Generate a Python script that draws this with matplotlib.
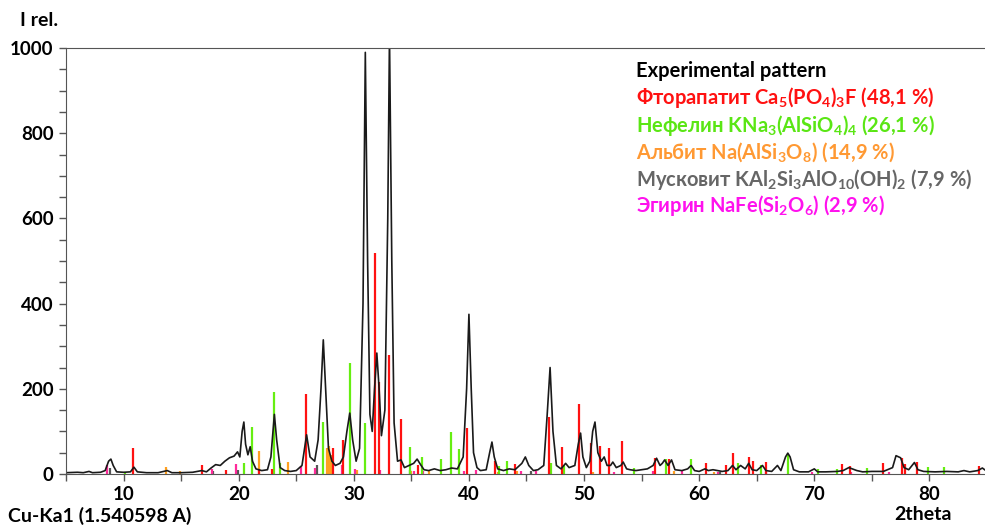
import matplotlib
matplotlib.use("Agg")
import matplotlib.pyplot as plt

plt.rcParams["font.family"] = "Lato"
plt.rcParams["mathtext.fontset"] = "custom"
plt.rcParams["mathtext.rm"] = "Lato:bold"
plt.rcParams["mathtext.it"] = "Lato:bold"
plt.rcParams["mathtext.bf"] = "Lato:bold"

# experimental pattern, 2theta / relative intensity
exp_x = [5.0, 6.0, 6.5, 7.0, 7.3, 8.0, 8.4, 8.7, 8.9, 9.1, 9.4, 10.0, 10.6, 10.9, 11.2,
         12.0, 13.0, 13.8, 14.2, 15.0, 16.0, 16.8, 17.2, 17.6, 18.0, 18.4, 18.8, 19.2,
         19.6, 19.9, 20.1, 20.3, 20.45, 20.6, 20.8, 21.0, 21.2, 21.5, 22.0, 22.5, 22.8,
         23.1, 23.3, 23.6, 24.0, 24.5, 25.0, 25.5, 25.9, 26.2, 26.6, 26.9, 27.15, 27.35,
         27.55, 27.8, 28.1, 28.4, 28.8, 29.1, 29.4, 29.65, 29.9, 30.2, 30.5, 30.8, 31.0,
         31.2, 31.4, 31.6, 31.8, 32.0, 32.2, 32.4, 32.7, 32.95, 33.1, 33.3, 33.5, 33.8,
         34.1, 34.4, 34.8, 35.2, 35.5, 35.8, 36.1, 36.5, 37.0, 37.5, 38.0, 38.5, 39.0,
         39.5, 39.8, 40.0, 40.2, 40.4, 40.7, 41.0, 41.5, 41.8, 42.0, 42.2, 42.5, 43.0,
         43.5, 44.0, 44.6, 44.9, 45.2, 45.6, 46.0, 46.5, 46.8, 47.05, 47.3, 47.6, 48.0,
         48.4, 48.7, 49.2, 49.5, 49.7, 49.9, 50.2, 50.5, 50.75, 50.95, 51.2, 51.5, 51.75,
         52.0, 52.3, 52.5, 52.8, 53.2, 53.4, 53.7, 54.0, 54.5, 55.0, 55.5, 56.0, 56.3,
         56.6, 56.8, 57.0, 57.3, 57.6, 57.9, 58.5, 59.0, 59.3, 59.6, 60.0, 60.5, 60.8,
         61.2, 61.6, 62.0, 62.5, 62.9, 63.2, 63.6, 64.0, 64.3, 64.6, 65.0, 65.5, 65.8,
         66.3, 66.8, 67.1, 67.5, 67.7, 67.9, 68.2, 68.7, 69.5, 70.0, 70.3, 71.0, 72.0,
         72.5, 73.0, 73.3, 73.7, 74.2, 75.0, 76.0, 76.8, 77.1, 77.5, 77.8, 78.2, 78.7,
         79.0, 79.5, 80.5, 81.5, 82.5, 83.0, 83.5, 84.2, 84.6, 85.0]
exp_y = [3, 4, 3, 6, 3, 4, 8, 30, 35, 20, 5, 4, 5, 16, 5,
         3, 3, 8, 3, 3, 4, 8, 5, 14, 22, 20, 30, 38,
         42, 52, 40, 100, 122, 70, 45, 64, 30, 12, 8, 10, 40,
         140, 80, 15, 8, 6, 8, 20, 92, 40, 30, 80, 200, 315,
         200, 60, 30, 20, 25, 40, 100, 143, 80, 30, 60, 400, 990,
         500, 140, 100, 200, 284, 200, 90, 150, 600, 1030, 500, 120, 30,
         33, 15, 20, 25, 35, 22, 10, 8, 12, 8, 10, 14, 12,
         40, 200, 375, 200, 50, 15, 8, 10, 50, 75, 40, 12, 8,
         12, 10, 25, 40, 20, 8, 10, 20, 140, 250, 100, 20, 12,
         25, 15, 20, 70, 96, 40, 15, 30, 100, 122, 50, 30, 40,
         20, 20, 28, 15, 20, 28, 12, 10, 8, 10, 12, 20, 37,
         20, 25, 33, 20, 33, 10, 8, 12, 20, 8, 6, 12, 8,
         10, 8, 6, 8, 20, 10, 20, 12, 25, 10, 8, 20, 8,
         6, 20, 8, 40, 49, 40, 10, 5, 5, 12, 5, 5, 6,
         8, 15, 12, 8, 5, 6, 6, 15, 43, 38, 15, 10, 27,
         10, 6, 5, 6, 5, 8, 5, 8, 14, 6]

# reference phases (stick patterns)
fap_pos = [10.8, 16.8, 18.9, 21.8, 22.9, 25.85, 28.15, 29.05, 31.85, 32.2, 33.05, 34.1,
           35.6, 39.8, 42.3, 44.0, 46.95, 48.1, 49.55, 50.6, 51.4, 52.2, 53.3, 56.2,
           57.4, 60.6, 62.3, 62.9, 64.3, 64.7, 65.8, 72.4, 73.1, 76.0, 77.6, 77.9, 78.9, 84.3]
fap_int = [60, 20, 10, 10, 12, 188, 61, 80, 520, 216, 280, 130,
           20, 108, 30, 24, 134, 64, 164, 73, 66, 61, 77, 38,
           35, 26, 22, 50, 39, 31, 29, 23, 19, 26, 37, 23, 28, 18]

nep_pos = [10.1, 20.5, 21.2, 23.05, 23.6, 27.3, 29.7, 31.0, 34.9, 35.9, 37.6, 38.4, 39.1,
           42.6, 43.3, 47.1, 48.3, 54.3, 57.1, 59.3, 63.4, 65.4, 67.7, 70.3, 72.0, 74.6,
           79.9, 81.3]
nep_int = [5, 26, 110, 193, 26, 122, 260, 120, 64, 40, 35, 99, 59,
           18, 31, 25, 20, 15, 35, 35, 26, 22, 46, 11, 11, 15,
           17, 17]

alb_pos = [13.65, 14.9, 21.75, 24.3, 27.7, 27.85, 28.0, 30.3, 35.0, 36.5, 42.5, 44.2,
           50.8, 57.8, 61.3]
alb_int = [16, 6, 55, 28, 60, 66, 45, 10, 8, 6, 5, 6, 5, 6, 5]

mus_pos = [8.8, 17.8, 19.9, 26.8, 34.9, 45.4, 61.8]
mus_int = [15, 8, 10, 20, 10, 8, 5]

aeg_pos = [8.6, 17.7, 19.8, 25.4, 26.6, 29.0, 30.1, 32.3, 35.2, 36.0, 39.6, 40.6, 44.5,
           45.8, 52.6, 56.0, 58.5, 61.6, 65.8, 69.8, 73.2, 76.5]
aeg_int = [20, 12, 24, 18, 15, 20, 12, 10, 8, 8, 6, 10, 6,
           6, 5, 6, 6, 5, 5, 5, 5, 5]

fig = plt.figure(figsize=(9.85, 5.29), dpi=100)
ax = fig.add_axes([0.067, 0.104, 0.935, 0.805])

ax.vlines(mus_pos, 0, mus_int, color="#555555", lw=1.6)
ax.vlines(alb_pos, 0, alb_int, color="#ffa020", lw=1.6)
ax.vlines(aeg_pos, 0, aeg_int, color="#ff2a9a", lw=1.6)
ax.vlines(nep_pos, 0, nep_int, color="#66ee11", lw=1.6)
ax.vlines(fap_pos, 0, fap_int, color="#ff1111", lw=1.6)
ax.plot(exp_x, exp_y, color="#1a1a1a", lw=1.2)

ax.set_xlim(5, 85)
ax.set_ylim(0, 1000)
ax.set_xticks(range(10, 90, 10))
ax.set_xticks(range(5, 90, 5), minor=True)
ax.set_yticks(range(0, 1001, 200))
ax.set_yticks(range(0, 1001, 50), minor=True)
ax.tick_params(which="both", direction="out", length=5, width=1, color="#555555")
ax.tick_params(axis="both", labelsize=13.5, pad=4)
for lab in ax.get_xticklabels() + ax.get_yticklabels():
    lab.set_fontweight("bold")
for s in ["left", "bottom", "top"]:
    ax.spines[s].set_color("#555555")
ax.spines["right"].set_visible(False)

fig.text(0.02, 0.962, "I rel.", fontsize=14, fontweight="bold", va="center")
fig.text(0.008, 0.025, "Cu-Ka1 (1.540598 A)", fontsize=14, fontweight="bold", va="center")
fig.text(0.908, 0.027, "2theta", fontsize=14, fontweight="bold", va="center")

legend_rows = [
    ("Experimental pattern", "#000000"),
    (r"Фторапатит $\mathdefault{Ca_5(PO_4)_3F}$ (48,1 %)", "#ff1111"),
    (r"Нефелин $\mathdefault{KNa_3(AlSiO_4)_4}$ (26,1 %)", "#5ae614"),
    (r"Альбит $\mathdefault{Na(AlSi_3O_8)}$ (14,9 %)", "#ff9933"),
    (r"Мусковит $\mathdefault{KAl_2Si_3AlO_{10}(OH)_2}$ (7,9 %)", "#666666"),
    (r"Эгирин $\mathdefault{NaFe(Si_2O_6)}$ (2,9 %)", "#ff11ee"),
]
row_y = [71, 98, 125, 152, 179, 206]
for (txt, col), yp in zip(legend_rows, row_y):
    fig.text(636 / 985, 1 - yp / 529, txt, color=col, fontsize=14.5,
             fontweight="bold", va="center")

fig.savefig("out.png", dpi=100)
